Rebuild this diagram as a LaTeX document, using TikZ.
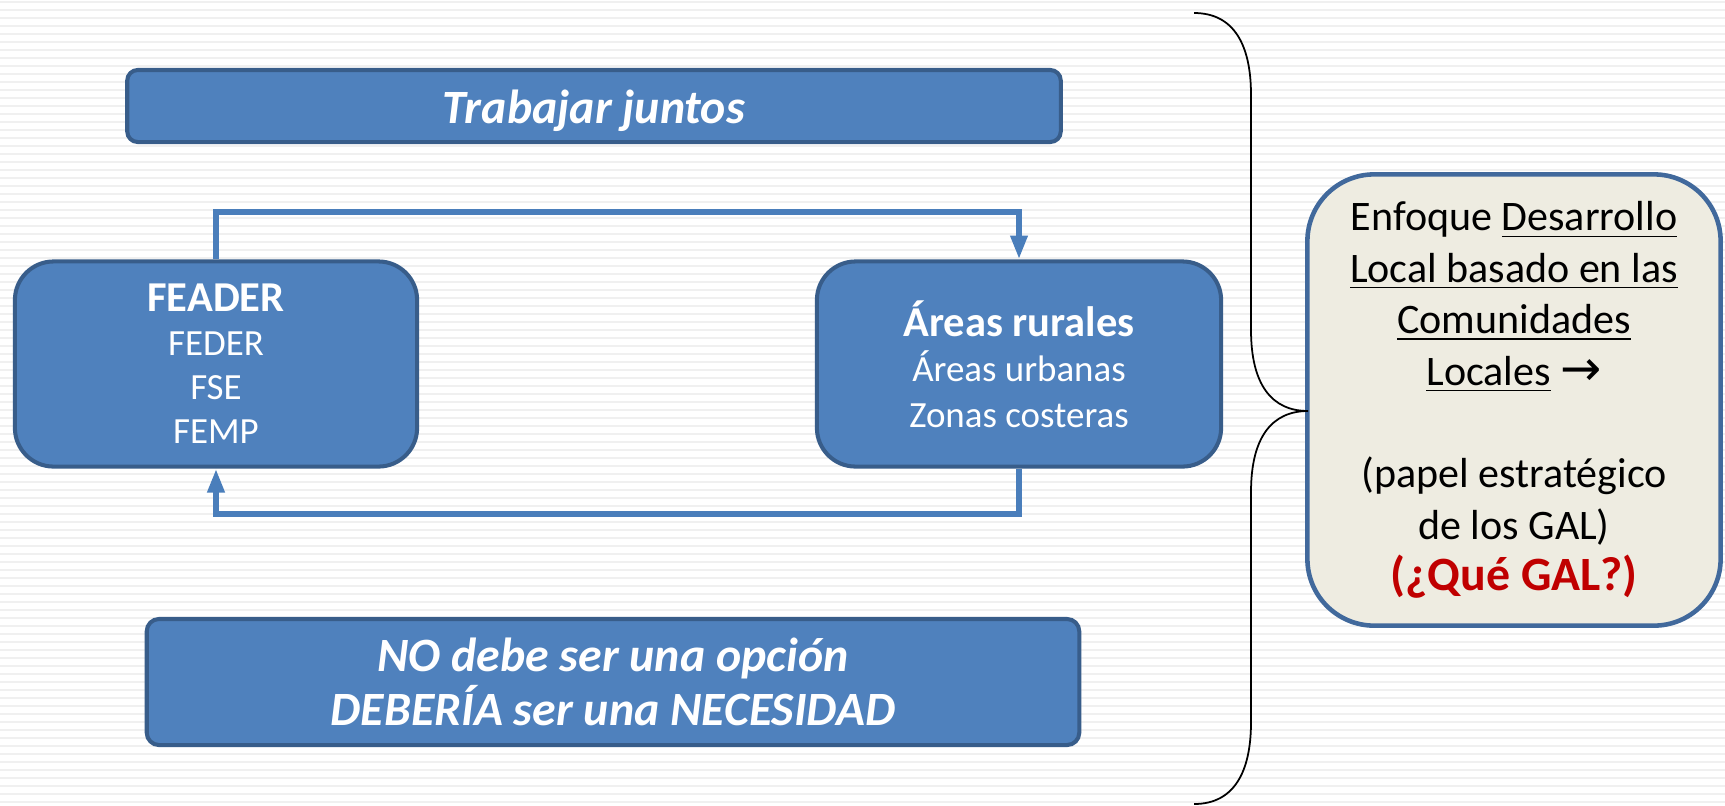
\documentclass[tikz,border=0pt]{standalone}
\usepackage{fontspec}
\setmainfont{Carlito}
\newfontfamily\symfont{DejaVu Sans}
\usetikzlibrary{arrows.meta}
\definecolor{boxfill}{HTML}{4F81BD}
\definecolor{boxline}{HTML}{385D8A}
\definecolor{linkblue}{HTML}{4A7EBB}
\definecolor{galfill}{HTML}{EEECE1}
\definecolor{galline}{HTML}{41699C}
\definecolor{galred}{HTML}{C00000}
\definecolor{stripegray}{HTML}{F0F0F0}
\tikzstyle{bluebox}=[draw=boxline, line width=1.15pt, fill=boxfill, text=white, align=center, inner sep=0pt]
\tikzstyle{link}=[draw=linkblue, line width=1.7pt, -{Triangle[length=6.8pt, width=4.6pt]}]
\tikzstyle{stripe}=[stripegray, line width=0.7pt]
\newcommand{\ulin}[1]{\underline{#1}}

\begin{document}
\begin{tikzpicture}[x=0.01cm, y=-0.01cm]
% Background
    \useasboundingbox (0,0) rectangle (1725,805);
    \fill[white] (0,0) rectangle (1725,805);
    \foreach \y in {2,10,...,802}
        \draw[stripe] (0,\y) -- (1725,\y);
% Boxes
    \node[bluebox, rounded corners=3pt, minimum width=9.33cm, minimum height=0.72cm,
        font=\fontsize{13.6}{15.4}\selectfont\bfseries\itshape] (juntos) at (594,106)
        {\raisebox{-5pt}[0pt][0pt]{Trabajar juntos}};
    \node[bluebox, rounded corners=11pt, minimum width=4.02cm, minimum height=2.05cm,
        font=\fontsize{10.5}{12.5}\selectfont] (feader) at (216,364)
        {{\fontsize{12.1}{14}\selectfont\bfseries FEADER}\\FEDER\\FSE\\FEMP};
    \node[bluebox, rounded corners=11pt, minimum width=4.04cm, minimum height=2.05cm,
        font=\fontsize{10.5}{13}\selectfont] (areas) at (1019,364)
        {{\fontsize{12.1}{14}\selectfont\bfseries Áreas rurales}\\Áreas urbanas\\Zonas costeras};
    \node[bluebox, rounded corners=3.5pt, minimum width=9.32cm, minimum height=1.26cm,
        font=\fontsize{13.6}{15.2}\selectfont\bfseries\itshape] (necesidad) at (613,682)
        {NO debe ser una opción\\DEBERÍA ser una NECESIDAD};
    \node[draw=galline, line width=1.3pt, fill=galfill, rounded corners=19pt, align=center,
        minimum width=4.13cm, minimum height=4.51cm, inner sep=0pt,
        font=\fontsize{11.95}{14.6}\selectfont] (gal) at (1514,400)
        {Enfoque \ulin{Desarrollo}\\\ulin{Local basado en las}\\\ulin{Comunidades}\\
        \ulin{Locales} {\symfont\fontsize{14}{14.6}\selectfont→}\\\strut\\(papel estratégico\\de los GAL)\\
        {\fontsize{13.6}{14.6}\selectfont\color{galred}\bfseries(¿Qué GAL?)}};
% Links
    \draw[link] (feader.north) -- ++(0,-47) -| (areas.north);
    \draw[link] (areas.south) -- ++(0,45) -| (feader.south);
% Brace
    \coordinate (bracetop) at (1194,13);
    \coordinate (tip) at (1308,411);
    \coordinate (bracebot) at (1194,804);
    \draw[black, line width=0.5pt] (bracetop) .. controls (1234,13) and (1251,45) .. (1251,95)
        -- (1251,330) .. controls (1251,385) and (1272,411) .. (tip)
        .. controls (1272,411) and (1251,437) .. (1251,492)
        -- (1251,722) .. controls (1251,772) and (1234,804) .. (bracebot);
\end{tikzpicture}
\end{document}
